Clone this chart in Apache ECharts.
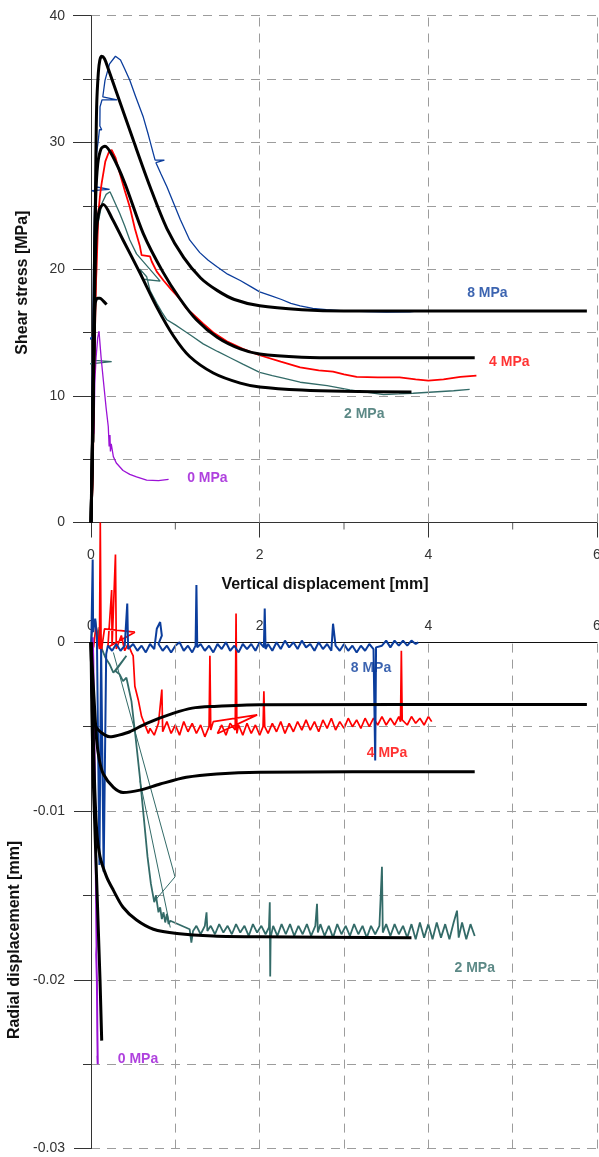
<!DOCTYPE html>
<html><head><meta charset="utf-8">
<script src="https://cdn.jsdelivr.net/npm/echarts@6/dist/echarts.min.js"></script>
<style>html,body{margin:0;padding:0;background:#fff}#c{width:599px;height:1157px}</style>
</head><body><div id="c"></div>
<script>
// ---------- tick labels / grid positions ----------
const xTickLabels = [0, 2, 4, 6];
const xMinorTicks = [1, 3, 5];
const topGridX = [2, 4, 6];
const bottomGridX = [1, 2, 3, 4, 5, 6];
const shearTicks = [0, 10, 20, 30, 40];
const radialTicks = [0, -0.01, -0.02, -0.03];

// ---------- top panel: shear stress [MPa] vs vertical displacement [mm] ----------
const shear8 = [[0,0],[0.01,6],[0.02,14.6],[-0.03,14.4],[0.02,14.7],[0.03,20],[0.04,24],[0.045,26.1],[0.01,26.2],[0.22,26.3],[0.05,26.5],[0.06,28.8],[0.087,30.2],[0.1,31.0],[0.127,31.0],[0.105,31.3],[0.107,32.8],[0.13,33.35],[0.31,33.35],[0.14,33.6],[0.166,34.9],[0.22,36.2],[0.29,36.8],[0.35,36.5],[0.40,35.8],[0.46,34.9],[0.53,33.6],[0.62,32.0],[0.68,30.6],[0.74,29.1],[0.76,28.6],[0.87,28.6],[0.77,28.4],[0.83,27.5],[0.90,26.5],[0.98,25.2],[1.06,23.9],[1.17,22.3],[1.29,21.3],[1.39,20.7],[1.49,20.2],[1.62,19.6],[1.77,19.1],[1.9,18.6],[2.0,18.2],[2.13,17.9],[2.26,17.6],[2.37,17.3],[2.48,17.1],[2.63,16.9],[2.79,16.8],[3.0,16.7],[3.27,16.65],[3.5,16.6],[3.78,16.62],[3.88,16.7]];
const shear4 = [[0,0],[0.02,3],[0.03,8],[0.04,12.6],[0.05,16],[0.06,19.1],[0.067,20.2],[0.08,23],[0.087,24.4],[0.11,26],[0.127,26.8],[0.17,28.5],[0.21,29.2],[0.245,29.4],[0.29,28.8],[0.34,27.6],[0.40,26.2],[0.46,24.9],[0.52,23.2],[0.58,21.8],[0.60,21.1],[0.70,21.0],[0.72,20.6],[0.78,19.8],[0.86,19.1],[0.95,18.4],[1.06,17.6],[1.13,16.9],[1.2,16.5],[1.33,15.7],[1.45,15.0],[1.61,14.3],[1.8,13.7],[2.0,13.2],[2.25,12.7],[2.48,12.25],[2.7,12.0],[2.87,11.9],[3.0,11.7],[3.15,11.5],[3.4,11.45],[3.66,11.46],[3.85,11.3],[4.0,11.2],[4.18,11.3],[4.38,11.5],[4.57,11.6]];
const shear2 = [[0,0],[0.02,4],[0.025,6.2],[0.01,6.2],[0.035,6.4],[0.035,10],[0.04,12.6],[-0.03,12.5],[0.245,12.7],[0.045,12.8],[0.05,16],[0.06,20],[0.08,23.5],[0.13,25.2],[0.18,25.9],[0.225,26.1],[0.26,25.6],[0.34,24.4],[0.40,23.4],[0.46,22.3],[0.54,21.2],[0.82,19.05],[0.62,19.2],[0.58,20.0],[0.66,19.4],[0.70,18.3],[0.78,17.3],[0.84,16.6],[0.9,16.0],[1.0,15.6],[1.09,15.2],[1.2,14.7],[1.33,14.1],[1.5,13.5],[1.65,13.0],[1.8,12.5],[2.0,11.85],[2.15,11.6],[2.28,11.4],[2.48,11.07],[2.8,10.8],[3.07,10.46],[3.3,10.25],[3.47,10.1],[3.65,10.15],[3.82,10.2],[4.06,10.3],[4.3,10.4],[4.49,10.5]];
const shear0 = [[0,0],[0.015,3],[0.025,6],[0.03,9.1],[0.035,7.0],[0.045,11],[0.06,13.0],[0.08,14.6],[0.095,15.1],[0.12,13.0],[0.146,11.25],[0.18,9.0],[0.205,7.56],[0.215,6.0],[0.225,6.9],[0.23,5.6],[0.24,6.2],[0.265,5.2],[0.30,4.7],[0.38,4.1],[0.46,3.8],[0.54,3.6],[0.66,3.35],[0.8,3.3],[0.92,3.4]];
const shearModel8 = [[0,0],[0.015,5],[0.03,12],[0.045,20],[0.055,27],[0.067,32.8],[0.087,35.5],[0.105,36.5],[0.127,36.8],[0.16,36.6],[0.2,35.9],[0.3,34.0],[0.5,30.2],[0.7,26.5],[0.9,23.2],[1.1,20.9],[1.3,19.3],[1.5,18.3],[1.7,17.6],[2.0,17.1],[2.5,16.8],[3.0,16.7],[5.88,16.7]];
const shearModel4 = [[0,0],[0.015,5],[0.03,12],[0.04,20],[0.055,25.5],[0.08,28.3],[0.12,29.5],[0.166,29.7],[0.25,29.0],[0.4,26.8],[0.62,22.8],[0.85,19.8],[1.05,17.7],[1.25,16.0],[1.5,14.6],[1.77,13.7],[2.0,13.3],[2.5,13.05],[3.0,13.0],[4.55,13.0]];
const shearModel2 = [[0,0],[0.015,5],[0.03,12],[0.045,19],[0.065,23],[0.1,24.7],[0.146,25.1],[0.25,24.0],[0.38,22.3],[0.58,19.7],[0.78,17.0],[0.98,14.7],[1.17,13.1],[1.45,11.8],[1.77,11.0],[2.0,10.7],[2.5,10.45],[3.0,10.35],[3.8,10.3]];
const shearModel0 = [[0,0],[0.01,4],[0.025,10],[0.04,15],[0.05,17.3],[0.075,17.7],[0.107,17.7],[0.15,17.45],[0.185,17.2]];

// ---------- bottom panel: radial displacement [mm] vs vertical displacement [mm] ----------
const radial8 = [[0,0],[0.01,-0.0005],[-0.04,-0.0015],[-0.04,-0.005],[0.0,-0.001],[0.02,0.0049],[0.025,0.0006],[0.05,0.0014],[0.07,0.0003],[0.1,-0.0132],[0.12,-0.0004],[0.15,-0.0136],[0.18,-0.0007],[0.2,-0.0002],
[0.25,-0.0005],[0.3,-0.0001],[0.35,-0.0005],[0.40,-0.0002],[0.43,0.0023],[0.44,-0.0004],[0.5,-0.0001],[0.55,-0.0005],[0.6,-0.0002],[0.65,-0.0006],[0.7,-0.0001],[0.75,-0.0004],[0.78,0.0008],[0.82,0.0012],[0.84,0.0004],[0.8,-0.0001],[0.85,-0.0005],[0.9,-0.0002],[0.95,-0.0006],[1.0,-0.0002],[1.05,0.0000],[1.1,-0.0005],[1.15,-0.0002],[1.2,-0.0006],[1.24,-0.0002],[1.25,0.0034],[1.26,-0.0003],[1.3,-0.0001],[1.35,-0.0005],[1.4,-0.0002],[1.45,-0.0006],[1.5,-0.0001],[1.55,-0.0004],[1.6,0.0000],[1.65,-0.0005],[1.7,-0.0002],[1.75,-0.0006],[1.8,-0.0001],[1.85,-0.0004],[1.9,-0.0001],[1.95,-0.0005],[2.0,0.0000],[2.05,-0.0003],[2.06,0.0020],[2.07,-0.0004],[2.1,-0.0001],[2.15,-0.0005],[2.2,0.0000],[2.25,-0.0004],[2.3,0.0001],[2.35,-0.0003],[2.4,0.0000],[2.45,-0.0004],[2.5,0.0001],[2.55,-0.0003],[2.6,-0.0001],[2.65,-0.0005],[2.7,0.0000],[2.75,-0.0004],[2.8,-0.0001],[2.85,-0.0005],[2.87,0.0011],[2.9,-0.0002],[2.95,-0.0005],[3.0,-0.0001],[3.05,-0.0005],[3.1,-0.0002],[3.15,-0.0006],[3.2,-0.0002],[3.25,-0.0005],[3.3,-0.0001],[3.35,-0.0004],[3.37,-0.0070],[3.38,-0.0003],[3.45,-0.0002],[3.5,0.0001],[3.55,-0.0003],[3.6,0.0001],[3.65,-0.0002],[3.7,0.0001],[3.75,-0.0002],[3.8,0.0001],[3.85,-0.0001],[3.88,0.0000]];
const radial4 = [[0,0],[0.03,-0.0003],[0.06,0.0010],[0.1,-0.0004],[0.11,0.0071],[0.12,-0.0006],[0.16,0.0008],[0.52,0.0006],[0.2,-0.0003],[0.245,0.0031],[0.25,-0.0002],[0.29,0.0052],[0.3,-0.0004],[0.36,0.0004],[0.4,-0.0005],[0.44,-0.0001],[0.48,-0.0006],[0.5,-0.0008],[0.52,-0.0026],[0.56,-0.0034],[0.6,-0.0044],[0.64,-0.0049],[0.68,-0.0054],
[0.70,-0.0051],[0.75,-0.0055],[0.80,-0.0048],[0.84,-0.0028],[0.85,-0.0053],[0.90,-0.0047],[0.95,-0.0054],[1.00,-0.0049],[1.05,-0.0055],[1.10,-0.0047],[1.15,-0.0053],[1.20,-0.0048],[1.25,-0.0054],[1.30,-0.0049],[1.35,-0.0056],[1.40,-0.0050],[1.41,-0.0008],[1.42,-0.0052],[1.45,-0.0047],[1.97,-0.0043],[1.50,-0.0054],[1.55,-0.0049],[1.60,-0.0055],[1.65,-0.0048],[1.71,-0.0052],[1.72,0.0017],[1.73,-0.0054],[1.75,-0.0049],[1.80,-0.0055],[1.85,-0.0048],[1.90,-0.0054],[1.95,-0.0049],[2.00,-0.0055],[2.04,-0.0050],[2.05,-0.0029],[2.06,-0.0050],[2.10,-0.0054],[2.15,-0.0048],[2.20,-0.0053],[2.25,-0.0047],[2.30,-0.0054],[2.35,-0.0048],[2.40,-0.0053],[2.45,-0.0047],[2.50,-0.0052],[2.55,-0.0046],[2.60,-0.0052],[2.65,-0.0047],[2.70,-0.0053],[2.75,-0.0046],[2.80,-0.0051],[2.85,-0.0045],[2.90,-0.0052],[2.95,-0.0047],[3.00,-0.0051],[3.05,-0.0045],[3.10,-0.0050],[3.15,-0.0046],[3.20,-0.0051],[3.25,-0.0045],[3.30,-0.0050],[3.35,-0.0045],[3.40,-0.0049],[3.45,-0.0044],[3.50,-0.0049],[3.55,-0.0045],[3.60,-0.0049],[3.65,-0.0044],[3.67,-0.0047],[3.68,-0.0005],[3.69,-0.0046],[3.75,-0.0049],[3.80,-0.0044],[3.85,-0.0048],[3.90,-0.0045],[3.95,-0.0049],[4.00,-0.0044],[4.04,-0.0047]];
const radial2 = [[0,0],[0.02,0.0010],[0.05,0.0013],[0.08,0.0002],[0.10,0.0009],[0.13,-0.0004],[0.17,-0.0009],[0.22,-0.0013],[0.265,-0.0018],[0.42,-0.0008],[0.29,-0.0017],[0.34,-0.0019],[0.38,-0.0023],[0.42,-0.0021],[0.45,-0.0028],[0.48,-0.0035],[0.53,-0.0057],[0.58,-0.0080],[0.63,-0.0106],[0.67,-0.0127],[0.71,-0.0143],[0.75,-0.0154],[0.77,-0.0150],[0.80,-0.0160],[0.82,-0.0157],[0.84,-0.0164],[0.86,-0.0160],[0.88,-0.0166],[0.90,-0.0161],[0.92,-0.0167],[0.94,-0.0165],[1.17,-0.0170],[1.19,-0.0178],[1.21,-0.0171],
[1.25,-0.0168],[1.30,-0.0173],[1.35,-0.0168],[1.37,-0.0160],[1.38,-0.0171],[1.42,-0.0168],[1.47,-0.0173],[1.52,-0.0167],[1.57,-0.0172],[1.62,-0.0168],[1.67,-0.0173],[1.72,-0.0167],[1.77,-0.0172],[1.82,-0.0168],[1.87,-0.0174],[1.92,-0.0167],[1.97,-0.0172],[2.02,-0.0168],[2.07,-0.0173],[2.11,-0.0169],[2.12,-0.0154],[2.125,-0.0198],[2.13,-0.0175],[2.16,-0.0168],[2.21,-0.0174],[2.26,-0.0167],[2.31,-0.0173],[2.36,-0.0167],[2.41,-0.0174],[2.46,-0.0168],[2.51,-0.0173],[2.56,-0.0167],[2.61,-0.0174],[2.66,-0.0168],[2.68,-0.0155],[2.69,-0.0172],[2.72,-0.0167],[2.77,-0.0174],[2.82,-0.0168],[2.87,-0.0175],[2.92,-0.0167],[2.97,-0.0173],[3.02,-0.0168],[3.07,-0.0174],[3.12,-0.0167],[3.17,-0.0173],[3.22,-0.0168],[3.27,-0.0175],[3.32,-0.0168],[3.37,-0.0173],[3.42,-0.0168],[3.45,-0.0133],[3.46,-0.0172],[3.50,-0.0167],[3.55,-0.0174],[3.60,-0.0167],[3.65,-0.0173],[3.70,-0.0168],[3.75,-0.0175],[3.80,-0.0167],[3.85,-0.0176],[3.90,-0.0166],[3.95,-0.0175],[4.00,-0.0167],[4.05,-0.0176],[4.10,-0.0166],[4.15,-0.0175],[4.20,-0.0167],[4.25,-0.0176],[4.30,-0.0166],[4.34,-0.0159],[4.36,-0.0175],[4.40,-0.0166],[4.45,-0.0176],[4.50,-0.0167],[4.55,-0.0174]];
const radial2JumpA = [[0.265,-0.0006],[0.996,-0.0139],[0.76,-0.0153]];
const radial2JumpB = [[0.58,-0.0082],[0.94,-0.0169]];
const radial0 = [[0.02,0.0003],[0.027,-0.001],[0.04,-0.006],[0.05,-0.010],[0.06,-0.015],[0.066,-0.018],[0.062,-0.0185],[0.07,-0.020],[0.075,-0.023],[0.08,-0.0250],[0.076,-0.0245]];
const radialModel8 = [[0,0],[0.01,-0.002],[0.027,-0.0044],[0.05,-0.0049],[0.087,-0.0052],[0.166,-0.0055],[0.225,-0.0056],[0.33,-0.0055],[0.46,-0.0053],[0.66,-0.0048],[0.98,-0.0042],[1.2,-0.0039],[1.45,-0.0038],[2.0,-0.0037],[5.88,-0.00368]];
const radialModel4 = [[0,0],[0.015,-0.0015],[0.03,-0.0028],[0.067,-0.0058],[0.1,-0.0070],[0.146,-0.0078],[0.266,-0.0086],[0.38,-0.0089],[0.58,-0.00876],[0.82,-0.0084],[1.13,-0.0080],[1.49,-0.0078],[2.0,-0.0077],[4.55,-0.00767]];
const radialModel2 = [[0,0],[0.02,-0.004],[0.04,-0.008],[0.067,-0.0111],[0.107,-0.0127],[0.185,-0.0139],[0.266,-0.0147],[0.38,-0.0157],[0.54,-0.01646],[0.74,-0.0170],[1.02,-0.01725],[1.45,-0.0174],[2.0,-0.01745],[3.8,-0.0175]];
const radialModel0 = [[0,0],[0.01,-0.004],[0.027,-0.0082],[0.067,-0.0141],[0.107,-0.02],[0.127,-0.0236]];

// ---------- curve labels (text, x, y in data units) ----------
const shearLabels = [['8 MPa',4.70,18.1],['4 MPa',4.96,12.67],['2 MPa',3.24,8.56],['0 MPa',1.38,3.51]];
const radialLabels = [['8 MPa',3.32,-0.00152],['4 MPa',3.51,-0.00656],['2 MPa',4.55,-0.01931],['0 MPa',0.557,-0.0247]];

// ---------- styling ----------
const FONT = '"Liberation Sans", Arial, Helvetica, sans-serif';
const COL = ['#0b3d9c', '#ff0000', '#336b68', '#9b12d6'];
const AXIS = '#333';
const GRID = '#9c9c9c';
const DASH = [9, 7];

function line(data, color, width, idx, z, smooth) {
  return {type:'line', xAxisIndex:idx, yAxisIndex:idx, data:data, symbol:'none', showSymbol:false,
    clip:false, smooth: smooth || false, lineStyle:{color:color, width:width}, z:z, silent:true, animation:false};
}
function labels(list, colors, idx) {
  return list.map((l, i) => ({type:'scatter', xAxisIndex:idx, yAxisIndex:idx, data:[[l[1], l[2]]],
    symbol:'circle', symbolSize:1, itemStyle:{color:'transparent'}, silent:true, animation:false, z:10,
    label:{show:true, position:'inside', formatter:l[0], color:colors[i], fontWeight:'bold', fontSize:14, fontFamily:FONT}}));
}
function vGrid(values, axisIdx) {
  return {type:'line', xAxisIndex:axisIdx, yAxisIndex:axisIdx, data:[], silent:true, animation:false, z:1,
    markLine:{silent:true, symbol:['none','none'], animation:false, label:{show:false},
      lineStyle:{color:GRID, type:DASH, width:1}, emphasis:{disabled:true},
      data: values.map(v => ({xAxis:v}))}};
}
// short minor ticks under the top panel's x axis (at 1, 3, 5 mm)
const minorTickSeries = {type:'scatter', xAxisIndex:0, yAxisIndex:0, data: xMinorTicks.map(v => [v, 0]),
  symbol:'rect', symbolSize:[1, 7], symbolOffset:[0, 3.5], clip:false, silent:true, animation:false, z:6,
  itemStyle:{color:AXIS}};

const chart = echarts.init(document.getElementById('c'), null, {renderer:'canvas'});
const labStyle = {fontSize:14, color:AXIS, fontFamily:FONT};
chart.setOption({
  animation:false,
  backgroundColor:'#fff',
  grid:[{left:91, top:15.7, width:506, height:506.8, containLabel:false, outerBoundsMode:'none'},
        {left:91, top:642.3, width:506, height:506.3, containLabel:false, outerBoundsMode:'none'}],
  xAxis:[
    {gridIndex:0, type:'value', min:0, max:6, interval:2, position:'bottom',
     splitLine:{show:false}, minorSplitLine:{show:false},
     axisLine:{onZero:false, lineStyle:{color:AXIS, width:1}},
     axisTick:{show:true, length:15, lineStyle:{color:AXIS}},
     axisLabel:Object.assign({margin:26, formatter: v => xTickLabels.includes(v) ? String(v) : ''}, labStyle),
     name:'Vertical displacement [mm]', nameLocation:'middle', nameGap:54,
     nameTextStyle:{fontWeight:'bold', fontSize:16, color:'#111', fontFamily:FONT, padding:[0,38,0,0]}},
    {gridIndex:1, type:'value', min:0, max:6, interval:1, position:'top',
     splitLine:{show:false}, minorSplitLine:{show:false},
     axisLine:{onZero:false, lineStyle:{color:'#111', width:1.2}},
     axisTick:{show:false},
     axisLabel:Object.assign({margin:9, formatter: v => xTickLabels.includes(v) ? String(v) : ''}, labStyle)}
  ],
  yAxis:[
    {gridIndex:0, type:'value', min:0, max:40, interval:10,
     axisLine:{show:true, onZero:false, lineStyle:{color:AXIS, width:1}},
     axisTick:{show:true, length:18, lineStyle:{color:AXIS}},
     minorTick:{show:true, splitNumber:2, length:8, lineStyle:{color:AXIS}},
     axisLabel:Object.assign({margin:26, formatter: v => shearTicks.includes(v) ? String(v) : ''}, labStyle),
     splitLine:{show:true, lineStyle:{color:GRID, type:DASH, width:1}},
     minorSplitLine:{show:true, lineStyle:{color:GRID, type:DASH, width:1}},
     name:'Shear stress [MPa]', nameLocation:'middle', nameGap:60,
     nameTextStyle:{fontWeight:'bold', fontSize:16, color:'#111', fontFamily:FONT, padding:[0,27,0,0]}},
    {gridIndex:1, type:'value', min:-0.03, max:0, interval:0.01,
     axisLine:{show:true, onZero:false, lineStyle:{color:AXIS, width:1}},
     axisTick:{show:true, length:17, lineStyle:{color:AXIS}},
     minorTick:{show:true, splitNumber:2, length:8, lineStyle:{color:AXIS}},
     axisLabel:Object.assign({margin:26, formatter: v => {const r = Math.round(v*1000)/1000; const t = radialTicks.find(k => Math.abs(k-r) < 1e-9); return t === undefined ? '' : (t === 0 ? '0' : String(t));}}, labStyle),
     splitLine:{show:true, lineStyle:{color:GRID, type:DASH, width:1}},
     minorSplitLine:{show:true, lineStyle:{color:GRID, type:DASH, width:1}},
     name:'Radial displacement [mm]', nameLocation:'middle', nameGap:66,
     nameTextStyle:{fontWeight:'bold', fontSize:16, color:'#111', fontFamily:FONT, padding:[0,89,0,0]}}
  ],
  series:[
    vGrid(topGridX, 0),
    vGrid(bottomGridX, 1),
    minorTickSeries,
    line(shear8, COL[0], 1.3, 0, 3),
    line(shear2, COL[2], 1.3, 0, 3),
    line(shear4, COL[1], 1.8, 0, 4),
    line(shear0, COL[3], 1.3, 0, 3),
    line(shearModel8, '#000', 3, 0, 5, 0.3),
    line(shearModel4, '#000', 3, 0, 5, 0.3),
    line(shearModel2, '#000', 3, 0, 5, 0.3),
    line(shearModel0, '#000', 3, 0, 5, 0.3),
    line(radial2, COL[2], 1.8, 1, 3),
    line(radial2JumpA, COL[2], 1, 1, 3),
    line(radial2JumpB, COL[2], 1, 1, 3),
    line(radial4, COL[1], 1.7, 1, 3),
    line(radial8, COL[0], 2, 1, 4),
    line(radial0, COL[3], 2, 1, 3),
    line(radialModel8, '#000', 3, 1, 5, 0.3),
    line(radialModel4, '#000', 3, 1, 5, 0.3),
    line(radialModel2, '#000', 3, 1, 5, 0.3),
    line(radialModel0, '#000', 3, 1, 5)
  ].concat(labels(shearLabels, COL, 0), labels(radialLabels, COL, 1))
});
</script></body></html>
